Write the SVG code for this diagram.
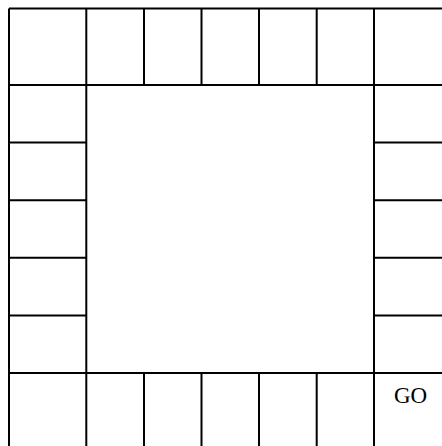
<svg xmlns="http://www.w3.org/2000/svg" width="442" height="446" viewBox="0 0 442 446">
<style>
  .ln { stroke: #000; stroke-width: 2; fill: none; }
  .lbl { font-family: "Liberation Serif", "Times New Roman", serif; font-size: 23px; fill: #000; }
</style>
<rect width="442" height="446" fill="#fff"/>
<g id="board" class="ln">
  <path d="M9 8.5H442M9 85H442M9 373H442"/>
  <path d="M9 8.5V446M86.3 8.5V446M374 8.5V446"/>
  <path d="M144 8.5V85M201.5 8.5V85M259 8.5V85M316.7 8.5V85"/>
  <path d="M144 373V446M201.5 373V446M259 373V446M316.7 373V446"/>
  <path d="M9 142.6H86.3M9 200.2H86.3M9 257.8H86.3M9 315.4H86.3"/>
  <path d="M374 142.6H442M374 200.2H442M374 257.8H442M374 315.4H442"/>
</g>
<g id="go">
  <text class="lbl" x="410.5" y="403" text-anchor="middle">GO</text>
</g>
</svg>
